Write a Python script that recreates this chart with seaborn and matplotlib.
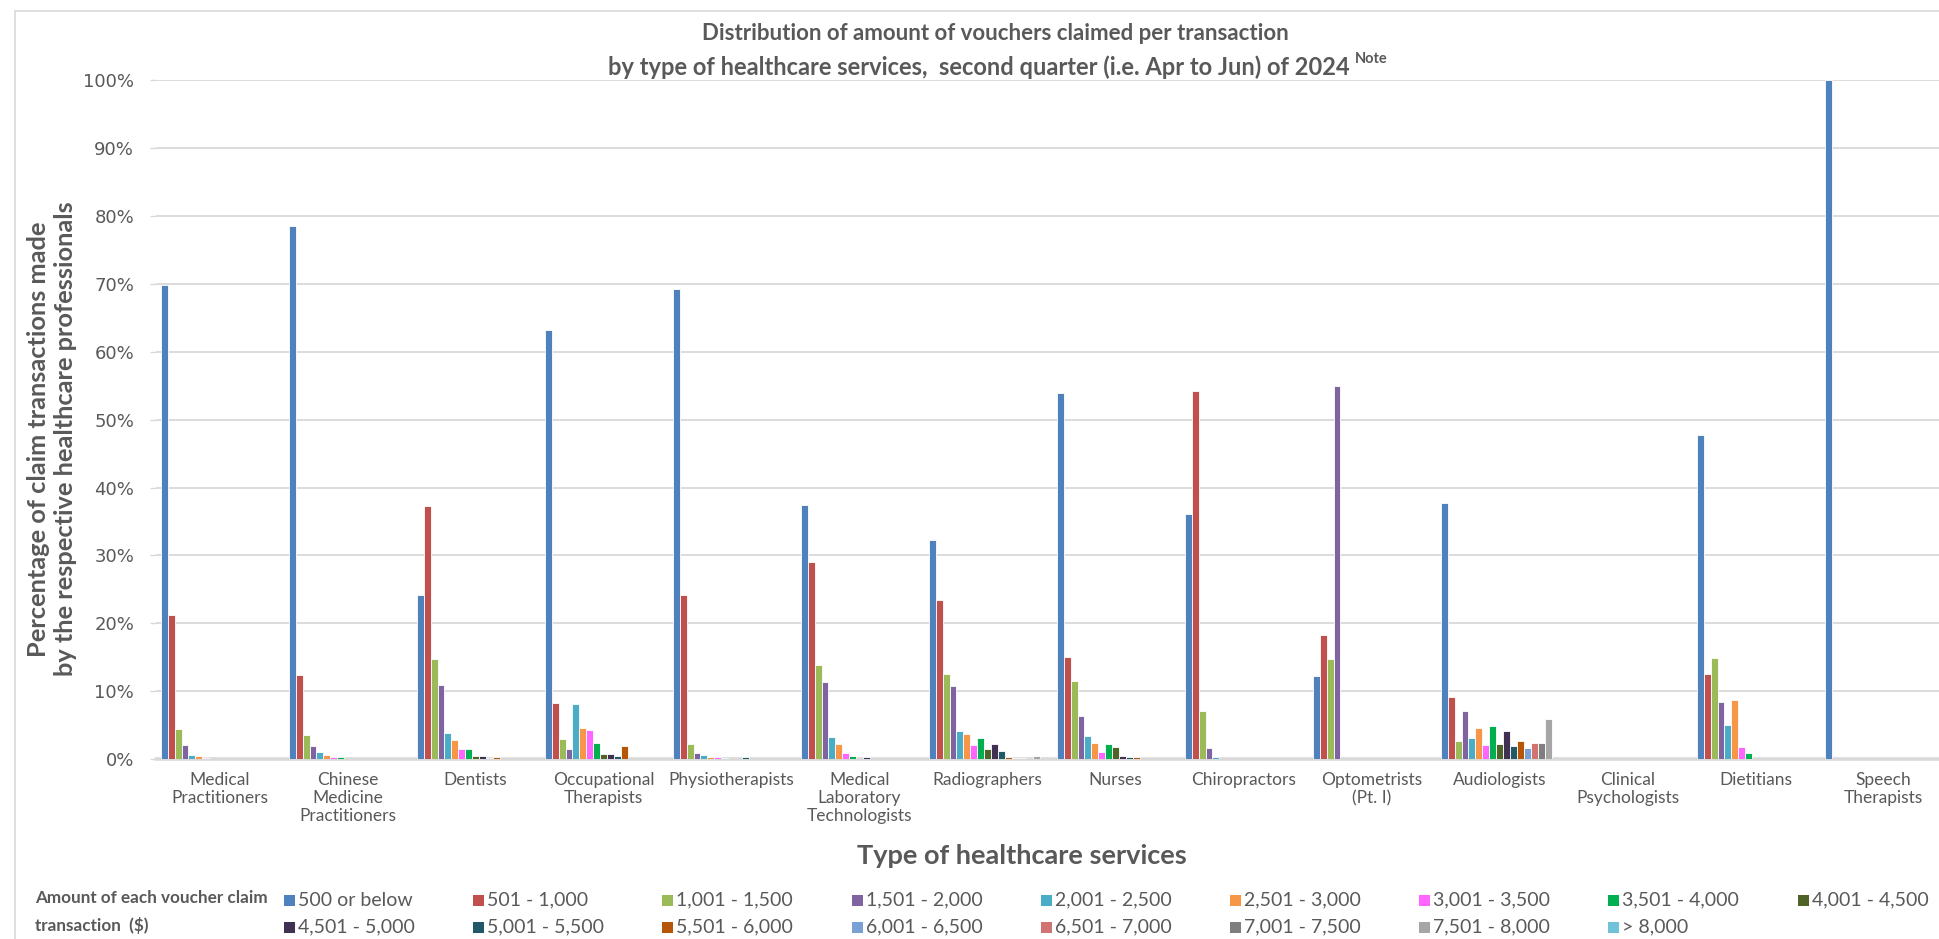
import matplotlib
matplotlib.use("Agg")
import matplotlib.pyplot as plt
from matplotlib.lines import Line2D
from matplotlib.patches import Rectangle
import seaborn as sns
import pandas as pd

# ---- data (percentage of claim transactions) ----
services = [
    "Medical\nPractitioners", "Chinese\nMedicine\nPractitioners", "Dentists",
    "Occupational\nTherapists", "Physiotherapists", "Medical\nLaboratory\nTechnologists",
    "Radiographers", "Nurses", "Chiropractors", "Optometrists\n(Pt. I)",
    "Audiologists", "Clinical\nPsychologists", "Dietitians", "Speech\nTherapists",
]

bands = [
    "500 or below", "501 - 1,000", "1,001 - 1,500", "1,501 - 2,000", "2,001 - 2,500",
    "2,501 - 3,000", "3,001 - 3,500", "3,501 - 4,000", "4,001 - 4,500", "4,501 - 5,000",
    "5,001 - 5,500", "5,501 - 6,000", "6,001 - 6,500", "6,501 - 7,000", "7,001 - 7,500",
    "7,501 - 8,000", "> 8,000",
]

band_colors = [
    "#4F81BD", "#C0504D", "#9BBB59", "#8064A2", "#4BACC6", "#F79646", "#FF66FF",
    "#00B050", "#4F6228", "#403152", "#215968", "#B65708", "#7BA0D6", "#CF7470",
    "#7F7F7F", "#A6A6A6", "#6FC2D8",
]

v_500_or_below = [69.8, 78.5, 24.2, 63.2, 69.2, 37.5, 32.3, 53.9, 36.1, 12.2, 37.7, 0, 47.7, 100]
v_501_1000 = [21.2, 12.35, 37.3, 8.3, 24.2, 29.1, 23.4, 15.0, 54.3, 18.2, 9.1, 0, 12.5, 0]
v_1001_1500 = [4.35, 3.5, 14.75, 2.9, 2.15, 13.9, 12.5, 11.5, 7.0, 14.8, 2.65, 0, 14.95, 0]
v_1501_2000 = [2.1, 1.95, 10.85, 1.4, 0.95, 11.3, 10.7, 6.3, 1.6, 54.9, 7.1, 0, 8.45, 0]
v_2001_2500 = [0.65, 1.1, 3.9, 8.1, 0.55, 3.2, 4.15, 3.35, 0.35, 0, 3.1, 0, 5.05, 0]
v_2501_3000 = [0.4, 0.55, 2.75, 4.55, 0.35, 2.15, 3.65, 2.3, 0, 0, 4.55, 0, 8.7, 0]
v_3001_3500 = [0.2, 0.3, 1.4, 4.25, 0.25, 0.9, 2.1, 1.1, 0, 0, 2.1, 0, 1.7, 0]
v_3501_4000 = [0, 0.35, 1.4, 2.4, 0.2, 0.5, 3.15, 2.2, 0, 0, 4.85, 0, 0.9, 0]
v_4001_4500 = [0, 0, 0.5, 0.7, 0, 0, 1.4, 1.7, 0, 0, 2.15, 0, 0, 0]
v_4501_5000 = [0, 0, 0.5, 0.8, 0, 0.35, 2.15, 0.5, 0, 0, 4.15, 0, 0, 0]
v_5001_5500 = [0, 0, 0.2, 0.4, 0.35, 0, 1.25, 0.25, 0, 0, 1.85, 0, 0, 0]
v_5501_6000 = [0, 0, 0.35, 1.85, 0, 0, 0.35, 0.25, 0, 0, 2.6, 0, 0, 0]
v_6001_6500 = [0, 0, 0, 0, 0, 0, 0.2, 0, 0, 0, 1.6, 0, 0, 0]
v_6501_7000 = [0, 0, 0, 0, 0, 0, 0.2, 0, 0, 0, 2.3, 0, 0, 0]
v_7001_7500 = [0, 0, 0, 0, 0, 0, 0, 0, 0, 0, 2.3, 0, 0, 0]
v_7501_8000 = [0, 0, 0, 0, 0, 0, 0.4, 0, 0, 0, 5.9, 0, 0, 0]
v_over_8000 = [0, 0, 0, 0, 0, 0, 0, 0, 0, 0, 0, 0, 0, 0]

series = [
    v_500_or_below, v_501_1000, v_1001_1500, v_1501_2000, v_2001_2500, v_2501_3000,
    v_3001_3500, v_3501_4000, v_4001_4500, v_4501_5000, v_5001_5500, v_5501_6000,
    v_6001_6500, v_6501_7000, v_7001_7500, v_7501_8000, v_over_8000,
]

y_ticks = [0, 10, 20, 30, 40, 50, 60, 70, 80, 90, 100]
y_tick_labels = [f"{t}%" for t in y_ticks]

rows = []
for band, vals in zip(bands, series):
    for svc, v in zip(services, vals):
        rows.append({"service": svc, "band": band, "pct": v})
df = pd.DataFrame(rows)

# ---- styling ----
sns.set_theme(style="white")
plt.rcParams["font.family"] = ["Lato", "DejaVu Sans"]
TXT = "#595959"
GRID = "#D9D9D9"

W, H = 1939, 939
fig = plt.figure(figsize=(W / 100, H / 100), dpi=100)
ax_left, ax_right, ax_top, ax_bot = 155.6, 1947.6, 80.4, 759.0
ax = fig.add_axes([ax_left / W, 1 - ax_bot / H, (ax_right - ax_left) / W, (ax_bot - ax_top) / H])

sns.barplot(
    data=df, x="service", y="pct", hue="band", order=services, hue_order=bands,
    palette=band_colors, saturation=1, width=0.92, ax=ax, legend=False,
    edgecolor="white", linewidth=0.6, errorbar=None, zorder=3,
)
for p in ax.patches:
    if p.get_height() <= 0:
        p.set_linewidth(0)

ax.set_xlim(-0.5, len(services) - 0.5)
ax.set_ylim(0, 100)
ax.set_yticks(y_ticks)
ax.set_yticklabels(y_tick_labels, family="DejaVu Sans", fontsize=13, color=TXT)
ax.tick_params(axis="y", length=4, width=1, color=GRID, pad=11.5, left=True)
ax.tick_params(axis="x", length=0, pad=9.5, labelsize=12.5, labelcolor=TXT)
for lab in ax.get_xticklabels():
    lab.set_linespacing(1.15)
ax.set_xlabel("")
ax.set_ylabel("")
for s in ax.spines.values():
    s.set_visible(False)
ax.yaxis.grid(True, color=GRID, linewidth=1.3, zorder=0)
ax.set_axisbelow(True)
ax.axhline(0, color=GRID, linewidth=2.6, clip_on=False, zorder=2)

# chart frame
fig.add_artist(Line2D([15 / W, 15 / W], [0, 1 - 11 / H], color=GRID, lw=1.2))
fig.add_artist(Line2D([15 / W, 1], [1 - 11 / H, 1 - 11 / H], color=GRID, lw=1.2))

# titles
fig.text(995 / W, 1 - 34 / H, "Distribution of amount of vouchers claimed per transaction",
         ha="center", va="center", fontsize=16, fontweight="bold", color=TXT)
t2 = fig.text(979 / W, 1 - 67 / H,
              "by type of healthcare services,  second quarter (i.e. Apr to Jun) of 2024",
              ha="center", va="center", fontsize=17, fontweight="bold", color=TXT)
fig.canvas.draw()
bb = t2.get_window_extent()
fig.text((bb.x1 + 5) / W, (bb.y1 - 4) / H, "Note", ha="left", va="center",
         fontsize=10.5, fontweight="bold", color=TXT)

fig.text(52 / W, 1 - 439 / H,
         "Percentage of claim transactions made\nby the respective healthcare professionals",
         rotation=90, ha="center", va="center", fontsize=18.3, fontweight="bold",
         color=TXT, linespacing=1.2)

fig.text(1022 / W, 1 - 856 / H, "Type of healthcare services", ha="center", va="center",
         fontsize=19.5, fontweight="bold", color=TXT)

# legend
fig.text(35 / W, 1 - 898 / H, "Amount of each voucher claim", ha="left", va="center",
         fontsize=12.3, fontweight="bold", color=TXT)
fig.text(35 / W, 1 - 925 / H, "transaction  ($)", ha="left", va="center",
         fontsize=12.3, fontweight="bold", color=TXT)
sq = 11
for i, (band, col) in enumerate(zip(bands, band_colors)):
    r, c = divmod(i, 9)
    x0 = 284 + c * 189.2
    yc = 900 + r * 27
    fig.add_artist(Rectangle((x0 / W, 1 - (yc + sq / 2) / H), sq / W, sq / H,
                             facecolor=col, edgecolor="none", transform=fig.transFigure))
    fig.text((x0 + sq + 3) / W, 1 - yc / H, band, ha="left", va="center",
             fontsize=14, color=TXT)

fig.savefig("out.png", dpi=100)
